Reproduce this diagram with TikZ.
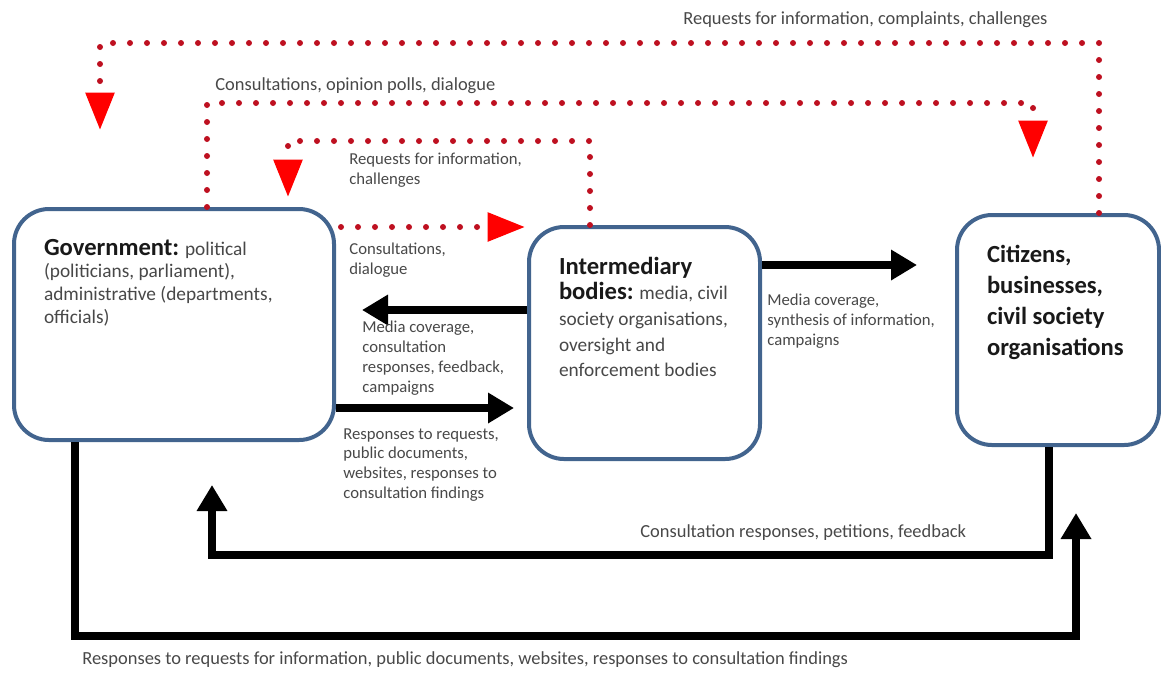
\documentclass[tikz,border=0pt]{standalone}
\usepackage{fontspec}
\setmainfont{Carlito}
\usetikzlibrary{arrows.meta}

\definecolor{bxblue}{RGB}{66,100,142}
\definecolor{dotred}{RGB}{190,16,32}
\definecolor{lblgrey}{RGB}{72,72,72}

\tikzstyle{bx}=[shape=rectangle,
                rounded corners=7mm,
                draw=bxblue,
                line width=0.8mm,
                fill=white,
                inner sep=6mm,
                anchor=north west]
\tikzstyle{rd}=[draw=dotred,
                line width=1.2mm,
                line cap=round,
                dash pattern=on 0pt off 3.4mm,
                -{Triangle[width=5.6mm,length=7.5mm,color=red]}]
\tikzstyle{bk}=[draw=black,
                line width=1.6mm,
                -{Triangle[width=5.8mm,length=5.2mm]}]
\tikzstyle{lb}=[text=lblgrey,
                font=\fontsize{9.5}{11.3}\selectfont,
                align=left,
                inner sep=0pt,
                anchor=north west]
\tikzstyle{lbb}=[text=lblgrey,
                 font=\fontsize{10.5}{12.5}\selectfont,
                 inner sep=0pt,
                 anchor=west]

\newcommand{\hd}[1]{{\color{black!90}\fontsize{14}{15}\selectfont\bfseries #1}}

\begin{document}
\begin{tikzpicture}[x=0.2mm,y=-0.2mm]

\useasboundingbox (0,0) rectangle (1161,673);

\node[bx] (gov) at (12,207)
  {\parbox[t][34.2mm][t]{52mm}{\raggedright\color{lblgrey}\fontsize{11}{13}\selectfont
   \hd{Government:} political\\(politicians, parliament),\\administrative (departments,\\officials)}};
\node[bx] (inter) at (527,225)
  {\parbox[t][34.4mm][t]{34.2mm}{\raggedright\color{lblgrey}\fontsize{11}{14.6}\selectfont
   \hd{Intermediary}\\\hd{bodies:} media, civil\\society organisations,\\oversight and\\enforcement bodies}};
\node[bx] (cit) at (955,213)
  {\parbox[t][34mm][t]{28.4mm}{\raggedright\fontsize{14}{17.6}\selectfont
   \hd{Citizens,}\\\hd{businesses,}\\\hd{civil society}\\\hd{organisations}}};

\coordinate (req1) at (100,130);
\coordinate (cons1) at (1033,158);
\coordinate (req2) at (288,197);
\coordinate (cons2) at (525,227);
\coordinate (med1) at (362,310);
\coordinate (resp1) at (514,408);
\coordinate (med2) at (917,265);
\coordinate (cfb) at (212,485);
\coordinate (rtr) at (1076,513);

\draw[rd] ([xshift=8.2mm]cit.north) -- ++(0,-170) -| (req1);
\draw[rd] ([xshift=6.6mm]gov.north) -- ++(0,-104) -| (cons1);
\draw[rd] ([xshift=-10.9mm]inter.north) -- ++(0,-84) -| (req2);
\draw[rd] ([xshift=1mm]gov.east |- cons2) -- (cons2);

\draw[bk] (inter.west |- med1) -- (med1);
\draw[bk] (gov.east |- resp1) -- (resp1);
\draw[bk] (inter.east |- med2) -- (med2);
\draw[bk] ([xshift=-1.8mm]cit.south) -- ++(0,108) -| (cfb);
\draw[bk] ([xshift=-19.8mm]gov.south) -- ++(0,194) -| (rtr);

\node[lbb] (l1) at (683,20) {Requests for information, complaints, challenges};
\node[lbb] (l2) at (215,86) {Consultations, opinion polls, dialogue};
\node[lb] (l3) at (349,153) {Requests for information,\\challenges};
\node[lb] (l4) at (349,243) {Consultations,\\dialogue};
\node[lb] (l5) at (362,321) {Media coverage,\\consultation\\responses, feedback,\\campaigns};
\node[lb] (l6) at (343,428) {Responses to requests,\\public documents,\\websites, responses to\\consultation findings};
\node[lb] (l7) at (767,294) {Media coverage,\\synthesis of information,\\campaigns};
\node[lbb] (l8) at (640,533) {Consultation responses, petitions, feedback};
\node[lbb] (l9) at (82,660) {Responses to requests for information, public documents, websites, responses to consultation findings};

\end{tikzpicture}
\end{document}
